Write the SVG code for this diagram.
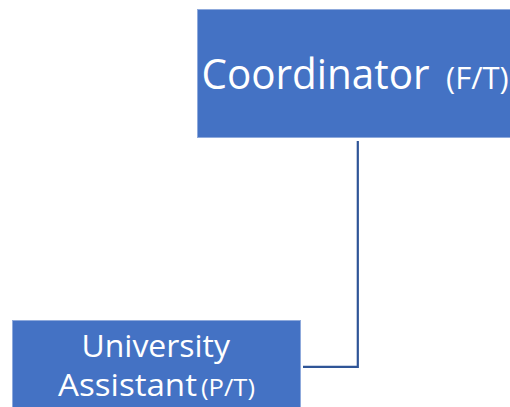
<svg xmlns="http://www.w3.org/2000/svg" width="510" height="407" viewBox="0 0 510 407">
<style>
.box{fill:#4472C4;stroke:#8FAADC;stroke-width:1}
.t{fill:#ffffff;font-family:"Open Sans","Noto Sans",sans-serif}
.conn{fill:none;stroke:#2F5597;stroke-width:2.2}
</style>
<rect width="510" height="407" fill="#ffffff"/>
<g id="connectors">
<path class="conn" d="M357.8,141 V366.8 H303"/>
</g>
<g id="coordinator">
<rect class="box" x="197.5" y="9.5" width="330" height="128"/>
<text class="t" x="201.5" y="89" font-size="42" textLength="228" lengthAdjust="spacingAndGlyphs">Coordinator</text>
<text class="t" x="446" y="89" font-size="31">(F/T)</text>
</g>
<g id="assistant">
<rect class="box" x="12.5" y="320.5" width="288" height="100"/>
<text class="t" x="81.5" y="357" font-size="31" textLength="148.5" lengthAdjust="spacingAndGlyphs">University</text>
<text class="t" x="58" y="396" font-size="31" textLength="139" lengthAdjust="spacingAndGlyphs">Assistant</text>
<text class="t" x="201" y="396" font-size="24" textLength="54" lengthAdjust="spacingAndGlyphs">(P/T)</text>
</g>
</svg>
